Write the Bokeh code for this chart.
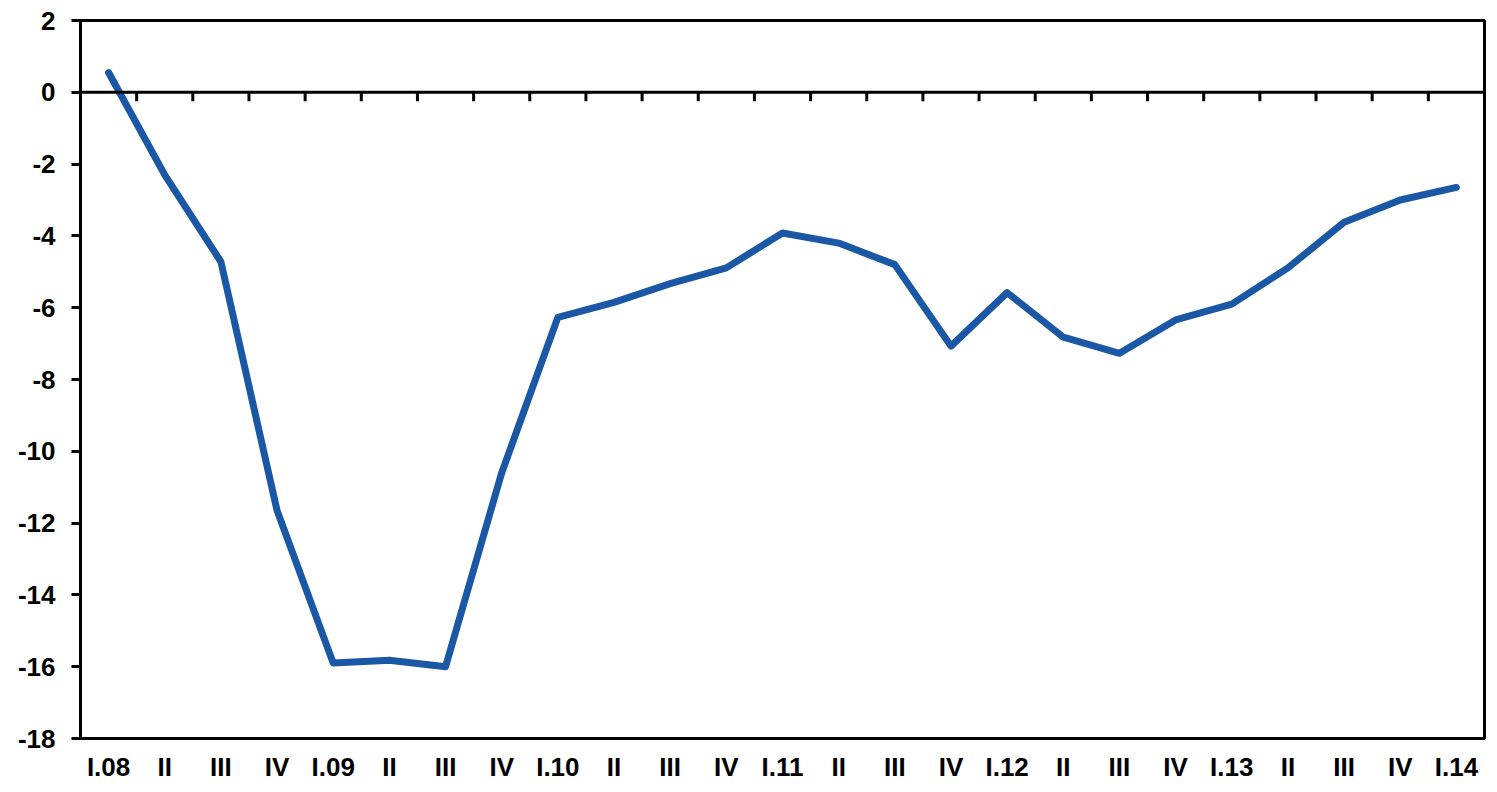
from bokeh.plotting import figure
from bokeh.models import FixedTicker, Range1d, Span
from bokeh.embed import file_html
from bokeh.resources import INLINE

quarters = ["I.08", "II", "III", "IV", "I.09", "II", "III", "IV", "I.10", "II", "III", "IV",
            "I.11", "II", "III", "IV", "I.12", "II", "III", "IV", "I.13", "II", "III", "IV", "I.14"]
values = [0.55, -2.3, -4.72, -11.65, -15.9, -15.82, -16.0, -10.6, -6.27, -5.85, -5.33, -4.89,
          -3.92, -4.2, -4.8, -7.07, -5.58, -6.82, -7.27, -6.34, -5.9, -4.89, -3.62, -3.0, -2.65]
y_ticks = list(range(-18, 3, 2))

n = len(quarters)
xs = [i + 0.5 for i in range(n)]

FONT = "Liberation Sans"
BLUE = "#1A58A6"

p = figure(width=1489, height=784, output_backend="svg", toolbar_location=None,
           x_range=Range1d(0, n), y_range=Range1d(-18, 2),
           min_border_left=80, min_border_right=5, min_border_top=20, min_border_bottom=40)
p.background_fill_color = "white"
p.border_fill_color = "white"
p.outline_line_color = "black"
p.outline_line_width = 3
p.xgrid.visible = False
p.ygrid.visible = False

# y axis
p.yaxis.ticker = FixedTicker(ticks=y_ticks)
p.yaxis.major_label_overrides = {t: str(t) for t in y_ticks}
p.yaxis.axis_line_width = 3
p.yaxis.axis_line_color = "black"
p.yaxis.major_tick_line_width = 3
p.yaxis.major_tick_out = 9
p.yaxis.major_tick_in = 0
p.yaxis.minor_tick_line_color = None
p.yaxis.major_label_standoff = 16
p.yaxis.major_label_text_font = FONT
p.yaxis.major_label_text_font_style = "bold"
p.yaxis.major_label_text_font_size = "26px"
p.yaxis.major_label_text_color = "black"

# x axis (labels at bottom, ticks on zero line)
p.xaxis.ticker = FixedTicker(ticks=xs)
p.xaxis.major_label_overrides = {x: q for x, q in zip(xs, quarters)}
p.xaxis.axis_line_width = 3
p.xaxis.axis_line_color = "black"
p.xaxis.major_tick_line_color = None
p.xaxis.major_tick_out = 0
p.xaxis.major_tick_in = 0
p.xaxis.minor_tick_line_color = None
p.xaxis.major_label_standoff = 13
p.xaxis.major_label_text_font = FONT
p.xaxis.major_label_text_font_style = "bold"
p.xaxis.major_label_text_font_size = "26px"
p.xaxis.major_label_text_color = "black"

# zero line with category-boundary ticks
p.add_layout(Span(location=0, dimension="width", line_color="black", line_width=3))
bounds = list(range(1, n))
p.ray(x=bounds, y=[0] * len(bounds), length=9, length_units="screen", angle=-1.5707963,
      line_color="black", line_width=3)

p.line(xs, values, line_color=BLUE, line_width=7, line_join="round", line_cap="round")

open("out.html", "w").write(file_html(p, INLINE))
